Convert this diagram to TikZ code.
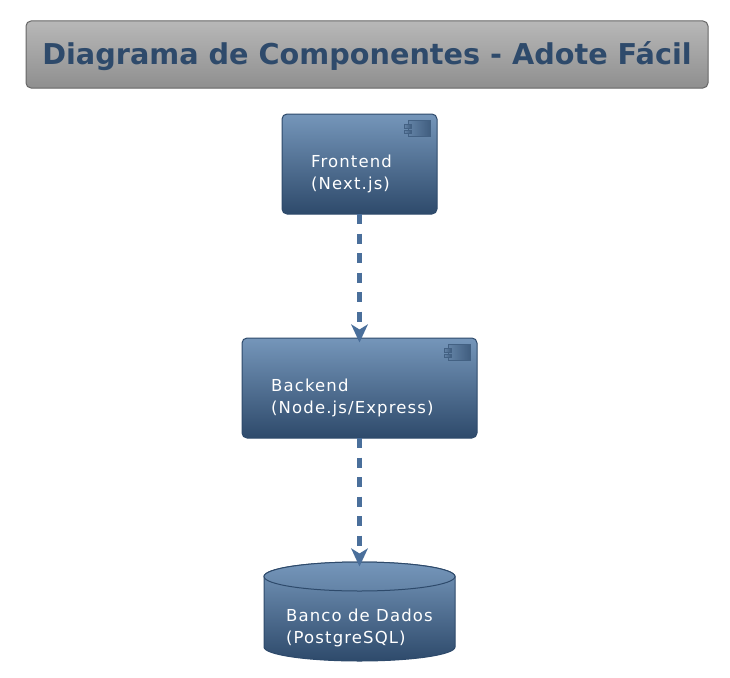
\documentclass[tikz,border=0pt]{standalone}
\usepackage{fontspec}
\setmainfont{DejaVu Sans}
\newfontfamily\labelfont[LetterSpace=6.8]{DejaVu Sans}
\usetikzlibrary{arrows.meta}
\definecolor{blueTop}{HTML}{7596BA}
\definecolor{blueBot}{HTML}{2E4A6B}
\definecolor{blueEdge}{HTML}{2E4A6B}
\definecolor{linkBlue}{HTML}{4A6F9B}
\tikzset{
  x=1pt,y=-1pt,
  boxnode/.style={draw=blueEdge,line width=1pt,rounded corners=5pt,top color=blueTop,bottom color=blueBot,inner sep=0pt,outer sep=0pt},
  titlebox/.style={draw=black!60,line width=1pt,rounded corners=5pt,top color=black!28,bottom color=black!44,inner sep=0pt,outer sep=0pt},
  labeltext/.style={text=white,anchor=west,align=left,font=\labelfont\fontsize{16.5}{21.5}\selectfont,inner sep=0pt},
  iconbody/.style={draw=blueEdge!70!blueTop,line width=.9pt,left color=blueTop!75!blueBot,right color=blueBot!75!blueTop},
  link/.style={draw=linkBlue,line width=4.3pt,dash pattern=on 10pt off 9.5pt,-{Stealth[length=18pt,width=16.5pt,inset=5pt]}}
}
\newcommand{\compicon}[2]{%
  \path[iconbody] (#1-24.5,#2-8) rectangle (#1-2,#2+7.5);
  \path[iconbody] (#1-28,#2-4.5) rectangle (#1-21.5,#2-.5);
  \path[iconbody] (#1-28,#2+1.5) rectangle (#1-21.5,#2+5);
}
\begin{document}
\begin{tikzpicture}
\useasboundingbox (0,0) rectangle (730,677);
\node[titlebox,minimum width=682pt,minimum height=67pt] (title) at (367,54.5) {};
\node[text=blueBot,font=\fontsize{28.7}{34}\selectfont\bfseries,inner sep=0pt] (titletext) at (367,56) {Diagrama de Componentes - Adote Fácil};
\node[boxnode,minimum width=155pt,minimum height=100pt] (front) at (359.5,164) {};
\node[labeltext] (frontlabel) at (311,174) {Frontend\\(Next.js)};
\node[boxnode,minimum width=235pt,minimum height=100pt] (back) at (359.5,388) {};
\node[labeltext] (backlabel) at (271,398) {Backend\\(Node.js/Express)};
\compicon{432.5}{128.7}
\compicon{472.5}{352.7}
\node[minimum width=191pt,minimum height=99pt,inner sep=0pt,outer sep=0pt] (db) at (359.5,611.5) {};
\path[draw=blueEdge,line width=1pt,top color=blueTop,bottom color=blueBot]
  (264,576.5) -- (264,647) arc[x radius=95.5pt,y radius=14pt,start angle=180,end angle=360] -- (455,576.5)
  arc[x radius=95.5pt,y radius=14.5pt,start angle=0,end angle=180] -- cycle;
\path[draw=blueEdge,line width=1pt,top color=blueTop,bottom color=blueTop!75!blueBot]
  (359.5,576.5) ellipse[x radius=95.5pt,y radius=14.5pt];
\node[labeltext] (dblabel) at (286,628) {Banco de Dados\\(PostgreSQL)};
\draw[link,shorten >=-4.5pt] (front.south) -- (back.north);
\draw[link,shorten >=-4.5pt] (back.south) -- (db.north);
\end{tikzpicture}
\end{document}
